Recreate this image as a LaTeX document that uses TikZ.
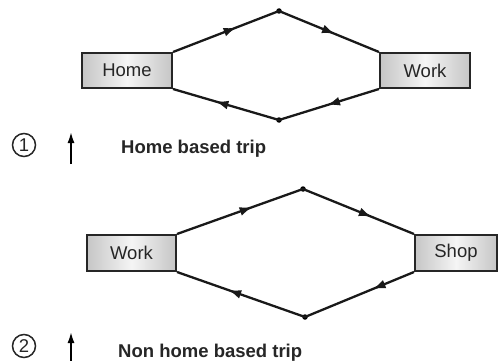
\documentclass[tikz,border=0pt]{standalone}
\usepackage{fontspec}
\setmainfont{Liberation Sans}
\usetikzlibrary{arrows.meta,decorations.markings}
\tikzset{
  place/.style={draw=black!85, line width=2pt, minimum width=90pt, minimum height=35pt,
    inner sep=0pt, left color=gray!45, right color=gray!45, middle color=gray!8,
    font=\fontsize{18.5}{20}\selectfont, text=black!85},
  vdot/.style={circle, fill=black, inner sep=0pt, minimum size=5.5pt},
  conn/.style={line width=2.3pt, draw=black!90},
  midarrow/.style={postaction={decorate, decoration={markings,
    mark=at position #1 with {\arrow{Latex[length=13pt,width=9pt]}}}}},
  numcirc/.style={circle, draw=black!85, line width=1.5pt, minimum size=23pt, inner sep=0pt,
    font=\fontsize{18.5}{20}\selectfont, text=black!85},
  uparrow/.style={line width=1.7pt, -{Latex[length=11pt,width=7pt]}},
  caption/.style={font=\bfseries\fontsize{18.5}{20}\selectfont, text=black!85, inner sep=0pt, anchor=base west}
}
\begin{document}
\begin{tikzpicture}[x=1pt,y=-1pt]
\useasboundingbox (0,0) rectangle (501,361);
% diagram 1
\node[place] (home) at (127,70.5) {Home};
\node[place] (work1) at (425,70.5) {Work};
\node[vdot] (t1) at (279,11) {};
\node[vdot] (b1) at (279,120) {};
\draw[conn, midarrow=0.6] (home.north east) -- (t1.center);
\draw[conn, midarrow=0.56] (t1.center) -- (work1.north west);
\draw[conn, midarrow=0.52] (work1.south west) -- (b1.center);
\draw[conn, midarrow=0.6] (b1.center) -- (home.south east);
\node[numcirc] (n1) at (24,145) {1};
\coordinate (a1s) at (71,164);
\coordinate (a1e) at (71,132);
\draw[uparrow] (a1s) -- (a1e);
\node[caption] (c1) at (121,153) {Home based trip};
% diagram 2
\node[place, minimum width=89pt, minimum height=36pt] (work2) at (131.5,253) {Work};
\node[place, minimum width=82pt, minimum height=36pt] (shop) at (456,253) {Shop};
\node[vdot] (t2) at (303,189) {};
\node[vdot] (b2) at (305,317) {};
\draw[conn, midarrow=0.6] (work2.north east) -- (t2.center);
\draw[conn, midarrow=0.62] (t2.center) -- (shop.north west);
\draw[conn, midarrow=0.38] (shop.south west) -- (b2.center);
\draw[conn, midarrow=0.6] (b2.center) -- (work2.south east);
\node[numcirc] (n2) at (24,346) {2};
\coordinate (a2s) at (71,362);
\coordinate (a2e) at (71,332);
\draw[uparrow] (a2s) -- (a2e);
\node[caption] (c2) at (118,357) {Non home based trip};
\end{tikzpicture}
\end{document}
